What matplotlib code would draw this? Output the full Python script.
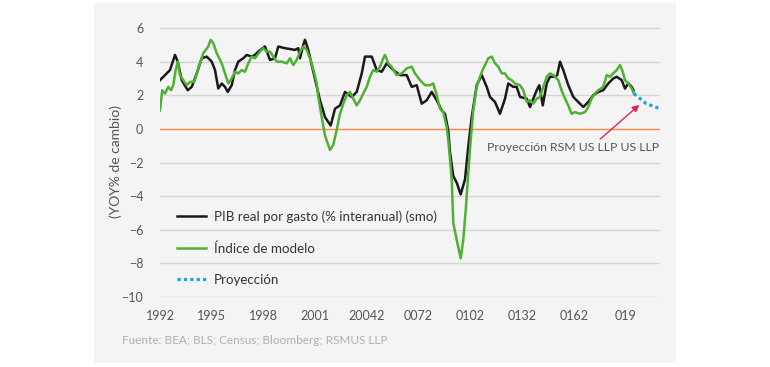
import matplotlib
matplotlib.use("Agg")
import matplotlib.pyplot as plt
from matplotlib.patches import Rectangle

plt.rcParams['font.family'] = ['Lato', 'DejaVu Sans']

# --- data ----------------------------------------------------------------
gdp_years = [1992.00, 1992.58, 1992.87, 1993.03, 1993.26, 1993.61, 1993.84, 1994.13,
             1994.42, 1994.71, 1995.00, 1995.19, 1995.38, 1995.58, 1995.77, 1995.93,
             1996.16, 1996.35, 1996.54, 1996.83, 1997.03, 1997.32, 1997.51, 1997.70,
             1998.09, 1998.38, 1998.67, 1998.86, 1999.25, 1999.83, 2000.02, 2000.12,
             2000.31, 2000.41, 2000.60, 2000.89, 2001.28, 2001.57, 2001.90, 2002.15,
             2002.44, 2002.73, 2003.12, 2003.41, 2003.70, 2003.89, 2004.28, 2004.57,
             2004.86, 2005.15, 2005.53, 2005.92, 2006.31, 2006.60, 2006.89, 2007.18,
             2007.47, 2007.76, 2008.05, 2008.34, 2008.53, 2008.72, 2008.82, 2009.01,
             2009.21, 2009.44, 2009.69, 2009.88, 2010.08, 2010.37, 2010.66, 2010.95,
             2011.14, 2011.43, 2011.72, 2012.01, 2012.20, 2012.49, 2012.69, 2012.88,
             2013.27, 2013.46, 2013.65, 2013.85, 2014.00, 2014.20, 2014.43, 2014.62,
             2014.91, 2015.04, 2015.20, 2015.39, 2015.68, 2015.97, 2016.26, 2016.55,
             2016.84, 2017.13, 2017.42, 2017.71, 2018.00, 2018.29, 2018.49, 2018.78,
             2018.97, 2019.16, 2019.36, 2019.46]
gdp_values = [2.9, 3.5, 4.4, 4.0, 2.9, 2.3, 2.5, 3.3,
              4.2, 4.3, 4.0, 3.5, 2.4, 2.7, 2.5, 2.2,
              2.6, 3.5, 4.0, 4.2, 4.4, 4.3, 4.4, 4.6,
              4.9, 4.1, 4.2, 4.9, 4.8, 4.7, 4.8, 4.2,
              5.0, 5.3, 4.7, 3.4, 1.7, 0.7, 0.2, 1.2,
              1.4, 2.2, 1.9, 2.2, 3.3, 4.3, 4.3, 3.5,
              3.4, 3.9, 3.5, 3.2, 3.2, 2.5, 2.6, 1.5,
              1.7, 2.2, 1.7, 1.1, 0.9, -0.1, -1.4, -2.8,
              -3.2, -3.9, -3.0, -1.05, 0.7, 2.6, 3.2, 2.5,
              1.9, 1.6, 0.9, 1.8, 2.7, 2.5, 2.5, 1.9,
              1.8, 1.3, 1.8, 2.3, 2.6, 1.4, 2.7, 3.1,
              3.1, 3.2, 4.0, 3.5, 2.6, 1.9, 1.6, 1.3,
              1.6, 2.0, 2.2, 2.3, 2.7, 3.0, 3.1, 2.9,
              2.4, 2.7, 2.5, 2.3]

model_years = [1992.00, 1992.13, 1992.29, 1992.48, 1992.64, 1992.77, 1992.91, 1993.03,
               1993.16, 1993.35, 1993.55, 1993.74, 1993.99, 1994.22, 1994.51, 1994.80,
               1994.94, 1995.09, 1995.29, 1995.58, 1995.77, 1995.96, 1996.16, 1996.35,
               1996.54, 1996.74, 1996.93, 1997.12, 1997.32, 1997.51, 1997.80, 1997.99,
               1998.19, 1998.38, 1998.57, 1998.77, 1999.05, 1999.35, 1999.54, 1999.73,
               1999.93, 2000.12, 2000.31, 2000.51, 2000.80, 2001.09, 2001.18, 2001.38,
               2001.57, 2001.86, 2002.05, 2002.25, 2002.44, 2002.63, 2002.83, 2003.02,
               2003.21, 2003.41, 2003.60, 2003.79, 2003.99, 2004.18, 2004.37, 2004.57,
               2004.76, 2004.95, 2005.05, 2005.24, 2005.43, 2005.72, 2006.02, 2006.31,
               2006.60, 2006.79, 2007.08, 2007.37, 2007.66, 2007.85, 2008.05, 2008.24,
               2008.43, 2008.63, 2008.72, 2008.92, 2009.01, 2009.21, 2009.44, 2009.59,
               2009.75, 2009.88, 2010.02, 2010.17, 2010.37, 2010.56, 2010.75, 2010.95,
               2011.04, 2011.24, 2011.43, 2011.62, 2011.82, 2012.01, 2012.20, 2012.39,
               2012.59, 2012.88, 2013.07, 2013.27, 2013.46, 2013.65, 2013.85, 2014.04,
               2014.23, 2014.43, 2014.62, 2014.81, 2015.10, 2015.29, 2015.49, 2015.68,
               2015.87, 2016.06, 2016.36, 2016.65, 2016.84, 2017.03, 2017.22, 2017.42,
               2017.71, 2017.91, 2018.10, 2018.29, 2018.49, 2018.68, 2018.84, 2018.97,
               2019.16, 2019.36, 2019.49]
model_values = [1.1, 2.3, 2.1, 2.5, 2.3, 2.6, 3.5, 4.0,
                3.2, 2.9, 2.6, 2.8, 2.8, 3.6, 4.5, 4.9,
                5.3, 5.1, 4.5, 3.9, 3.3, 2.7, 3.0, 3.4,
                3.3, 3.5, 3.4, 3.9, 4.3, 4.2, 4.6, 4.8,
                4.6, 4.6, 4.3, 4.0, 4.0, 3.9, 4.2, 3.8,
                4.1, 4.6, 4.9, 4.7, 3.9, 2.7, 1.9, 0.7,
                -0.4, -1.25, -0.95, -0.05, 0.9, 1.5, 2.0, 2.2,
                1.8, 1.4, 1.7, 2.1, 2.5, 3.1, 3.5, 3.4,
                3.7, 4.2, 4.4, 3.9, 3.7, 3.2, 3.3, 3.6,
                3.7, 3.3, 2.9, 2.6, 2.6, 2.7, 2.0, 1.2,
                1.0, 0.1, -0.65, -3.0, -5.6, -6.6, -7.7, -6.6,
                -4.6, -2.6, -0.65, 1.1, 2.5, 3.1, 3.6, 4.0,
                4.2, 4.3, 3.9, 3.7, 3.3, 3.3, 3.0, 2.9,
                2.7, 2.6, 2.3, 1.6, 1.7, 1.5, 1.8, 1.9,
                2.5, 3.1, 3.3, 3.2, 2.9, 2.3, 1.8, 1.4,
                0.9, 1.0, 0.9, 1.0, 1.3, 1.8, 2.1, 2.3,
                2.5, 3.2, 3.1, 3.3, 3.5, 3.8, 3.4, 2.9,
                2.7, 2.4, 2.1]

proj_years = [2019.49, 2020.2, 2021.0]
proj_values = [2.1, 1.5, 1.2]

tick_years = [1992, 1995, 1998, 2001, 2004, 2007, 2010, 2013, 2016, 2019]
tick_labels = ["1992", "1995", "1998", "2001", "20042", "0072", "0102", "0132", "0162", "019"]
y_ticks = [6, 4, 2, 0, -2, -4, -6, -8, -10]

labels = ["PIB real por gasto (% interanual) (smo)", "Índice de modelo", "Proyección"]

# --- figure ---------------------------------------------------------------
W, H = 770, 367
fig = plt.figure(figsize=(W / 100, H / 100), dpi=100)
fig.patch.set_facecolor("white")
bg = "#f4f4f4"
fig.patches.append(Rectangle((94 / W, 1 - 363 / H), (676 - 94) / W, 360 / H,
                             transform=fig.transFigure, facecolor=bg, edgecolor="none",
                             zorder=-5))

ax = fig.add_axes([160 / W, 1 - 297 / H, 500 / W, (297 - 21.3) / H])
ax.set_zorder(2)
ax.patch.set_alpha(0)

ax.set_xlim(1992, 2021)
ax.set_ylim(-10, 6.4)
for v in y_ticks:
    if v == 0:
        ax.axhline(v, color="#f08a4b", lw=1.0, zorder=1)
    else:
        ax.axhline(v, color="#d6d6d6", lw=1.0, zorder=1)

l1, = ax.plot(gdp_years, gdp_values, color="#1a1a1a", lw=1.8, zorder=3, label=labels[0])
l2, = ax.plot(model_years, model_values, color="#4fb133", lw=1.8, zorder=4, label=labels[1])
l3, = ax.plot(proj_years, proj_values, color="#1ba3e0", lw=2.3, ls=(0, (1, 1)), zorder=4,
              label=labels[2])

for s in ax.spines.values():
    s.set_visible(False)
ax.set_yticks(y_ticks)
ax.set_yticklabels([("\u2212" + str(-t)) if t < 0 else str(t) for t in y_ticks])
ax.set_xticks(tick_years)
ax.set_xticklabels(tick_labels)
ax.tick_params(axis="both", length=0, labelsize=9, labelcolor="#555555")
ax.tick_params(axis="y", pad=12)
ax.tick_params(axis="x", pad=9)

ax.set_ylabel("(YOY% de cambio)", fontsize=10, color="#555555")
ax.yaxis.set_label_coords(-0.075, 0.49)

leg = ax.legend(handles=[l1, l2, l3], loc="upper left", bbox_to_anchor=(0.034, 0.315),
                frameon=False, fontsize=9.6, labelspacing=1.45, handlelength=2.2,
                handletextpad=0.55, borderpad=0, borderaxespad=0)
for t in leg.get_texts():
    t.set_color("#333333")

ax.annotate("Proyección RSM US LLP US LLP", xy=(2019.8, 1.43), xytext=(2020.94, -1.1),
            ha="right", va="center", fontsize=8.8, color="#555555",
            arrowprops=dict(arrowstyle="-|>", color="#e8245c", lw=1.0, mutation_scale=10,
                            shrinkA=0, shrinkB=0, relpos=(0.64, 1.0)))

fig.text(122 / W, 1 - 341 / H, "Fuente: BEA; BLS; Census; Bloomberg; RSMUS LLP",
         fontsize=8.5, color="#b0b0b0", va="center", ha="left")

fig.savefig("out.png", dpi=100, facecolor="white")
